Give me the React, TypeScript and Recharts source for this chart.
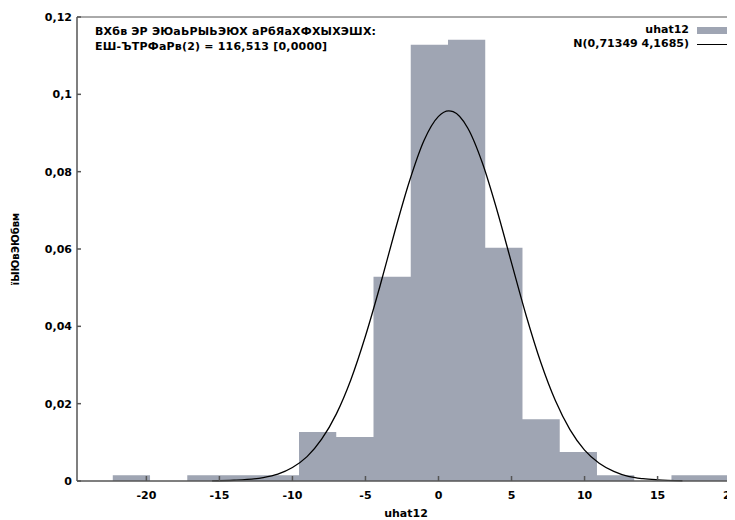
import React from 'react';
import { ComposedChart, Area, Line, XAxis, YAxis, Label } from 'recharts';

// histogram bins (left edge, density)
const binEdges = [-22.3, -19.75, -17.2, -14.65, -12.1, -9.55, -7.0, -4.45, -1.9, 0.65, 3.2, 5.75, 8.3, 10.85, 13.4, 15.95, 18.5, 21.05];
const binHeights = [0.0015, 0, 0.0015, 0.0015, 0.0015, 0.0127, 0.0114, 0.0528, 0.1128, 0.1141, 0.0603, 0.016, 0.0075, 0.0015, 0, 0.0015, 0.0015];

// normal density curve
const curveX = [-15.5, -14, -12, -11, -10, -9, -8, -7, -6, -5, -4, -3, -2, -1, 0, 0.7, 1, 2, 3, 4, 5, 6, 7, 8, 9, 10, 11, 12, 13, 14, 15, 16.7];
const curveY = [0.00005, 0.0002, 0.0009, 0.0018, 0.0035, 0.0063, 0.0108, 0.0173, 0.0262, 0.0375, 0.0505, 0.0644, 0.0774, 0.088, 0.0943, 0.0957, 0.0955, 0.0913, 0.0823, 0.0701, 0.0564, 0.0428, 0.0307, 0.0208, 0.0133, 0.008, 0.0046, 0.0025, 0.0012, 0.0006, 0.0003, 0.00006];

const xTicks = [-20, -15, -10, -5, 0, 5, 10, 15, 20];
const yTicks = [0, 0.02, 0.04, 0.06, 0.08, 0.1, 0.12];

const seriesName = 'uhat12';
const curveName = 'N(0,71349 4,1685)';
const yLabel = 'їЫЮвЭЮбвм';
const testLine1 = 'ВХбв ЭР ЭЮаЬРЫЬЭЮХ аРбЯаХФХЫХЭШХ:';
const testLine2 = 'ЕШ-ЪТРФаРв(2) = 116,513 [0,0000]';

const histData = binEdges.map((x, i) => ({ x, h: binHeights[Math.min(i, binHeights.length - 1)] }));
const curveData = curveX.map((x, i) => ({ x, d: curveY[i] }));

const font = '"DejaVu Sans", Verdana, sans-serif';
const tickStyle = { fontFamily: font, fontSize: 11, fontWeight: 700, fill: '#000' };
const barColor = '#9fa5b3';
const axisColor = '#555';

const fmtY = (v: number) => (v === 0 ? '0' : String(v).replace('.', ','));

export default function App() {
  return (
    <div style={{ position: 'relative', margin: '-8px 0 0 -8px', width: 735, height: 520, overflow: 'hidden', background: '#fff' }}>
      <ComposedChart width={735} height={520} margin={{ top: 0, right: 0, bottom: 0, left: 0 }}>
        <XAxis
          xAxisId="bottom"
          dataKey="x"
          type="number"
          domain={[-24.75, 20.3]}
          allowDataOverflow
          ticks={xTicks}
          interval={0}
          height={39}
          tickSize={-5}
          tickMargin={15}
          tick={tickStyle}
          stroke={axisColor}
          strokeWidth={1.5}
        >
          <Label value="uhat12" position="insideBottom" offset={3} style={{ fontFamily: font, fontSize: 11, fontWeight: 700, fill: '#000' }} />
        </XAxis>
        <XAxis
          xAxisId="top"
          orientation="top"
          dataKey="x"
          type="number"
          domain={[-24.75, 20.3]}
          allowDataOverflow
          ticks={xTicks}
          interval={0}
          height={17}
          tickSize={-5}
          tick={false}
          stroke={axisColor}
          strokeWidth={1}
        />
        <YAxis
          type="number"
          domain={[0, 0.12]}
          ticks={yTicks}
          interval={0}
          width={77}
          tickSize={-4}
          tickMargin={9}
          tickFormatter={fmtY}
          tick={tickStyle}
          stroke={axisColor}
          strokeWidth={1.5}
        >
          <Label
            value={yLabel}
            angle={-90}
            position="insideLeft"
            offset={15}
            style={{ fontFamily: font, fontSize: 10, fontWeight: 700, fill: '#000', textAnchor: 'middle' }}
          />
        </YAxis>
        <Area
          xAxisId="bottom"
          data={histData}
          dataKey="h"
          type="stepAfter"
          stroke="none"
          fill={barColor}
          fillOpacity={1}
          isAnimationActive={false}
        />
        <Line
          xAxisId="bottom"
          data={curveData}
          dataKey="d"
          type="monotone"
          stroke="#000"
          strokeWidth={1.3}
          dot={false}
          isAnimationActive={false}
        />
      </ComposedChart>

      <div style={{ position: 'absolute', left: 95, top: 24, fontFamily: font, fontSize: 11, fontWeight: 700, lineHeight: '15px', color: '#000', whiteSpace: 'nowrap', letterSpacing: 0.2 }}>
        <div>{testLine1}</div>
        <div>{testLine2}</div>
      </div>

      <div style={{ position: 'absolute', right: 4, top: 23, fontFamily: font, fontSize: 11, fontWeight: 700, lineHeight: '14px', color: '#000', whiteSpace: 'nowrap' }}>
        <div style={{ display: 'flex', justifyContent: 'flex-end', alignItems: 'center' }}>
          <span>{seriesName}</span>
          <span style={{ display: 'inline-block', width: 34, height: 7, background: barColor, marginLeft: 8 }} />
        </div>
        <div style={{ display: 'flex', justifyContent: 'flex-end', alignItems: 'center' }}>
          <span>{curveName}</span>
          <span style={{ display: 'inline-block', width: 34, height: 0, borderTop: '1.3px solid #000', marginLeft: 8 }} />
        </div>
      </div>
    </div>
  );
}
